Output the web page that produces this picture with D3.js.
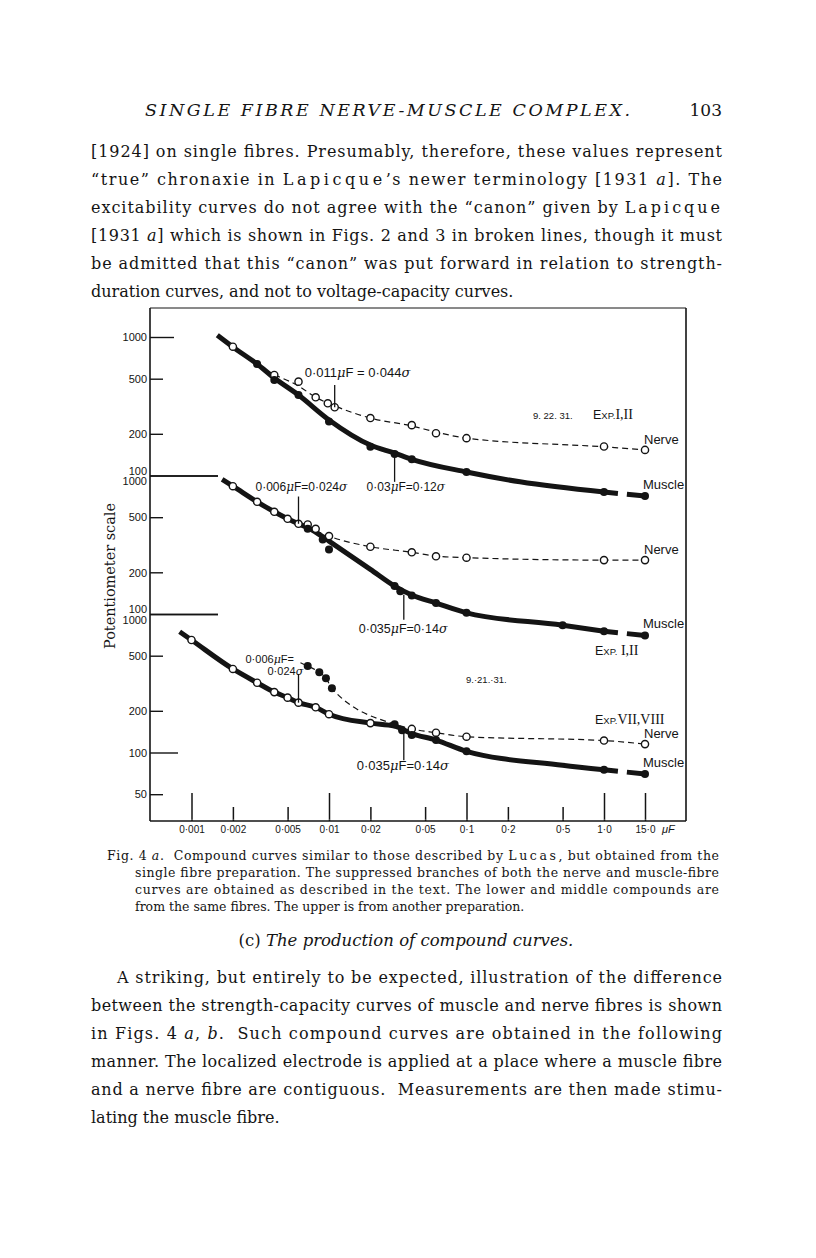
<!DOCTYPE html>
<html>
<head>
<meta charset="utf-8">
<script src="https://cdn.jsdelivr.net/npm/d3@7"></script>
<style>
body { margin: 0; background: #fff; }
text { white-space: pre; }
</style>
</head>
<body>
<script>

// ---------- data ----------
// x : condenser capacity, microfarads ; y : potentiometer scale reading
var xTickVals = [0.001, 0.002, 0.005, 0.01, 0.02, 0.05, 0.1, 0.2, 0.5, 1, 15];
var xTickText = ["0·001", "0·002", "0·005", "0·01", "0·02", "0·05", "0·1", "0·2", "0·5", "1·0", "15·0"];
var xMajor = [0.001, 0.01, 0.1, 1, 15];

var yTickVals = [[1000, 500, 200, 100], [1000, 500, 200, 100], [1000, 500, 200, 100, 50]];

// upper compound, 9.22.31, Exp. I,II
var p1_muscle = [[0.003,638],[0.004,489],[0.006,381],[0.01,245],[0.02,161],[0.03,143],[0.04,131],[0.1,106],[1,76],[15,71]];
var p1_nerve  = [[0.002,851],[0.004,532],[0.006,476],[0.008,367],[0.0098,332],[0.011,311],[0.02,260],[0.04,231],[0.06,202],[0.1,186],[1,162],[15,153]];
var p1_solid  = [[0.00154,1030],[0.002,847],[0.003,638],[0.004,506],[0.006,381],[0.01,252],[0.02,166],[0.03,145],[0.04,131],[0.1,106],[0.245,90],[1,76]];
var p1_dash   = [[0.004,532],[0.006,443],[0.008,367],[0.011,318],[0.02,260],[0.04,228],[0.06,206],[0.1,186],[1,161],[15,153]];

// middle compound, Exp. I,II
var p2_muscle = [[0.007,412],[0.009,345],[0.01,292],[0.03,159],[0.033,146],[0.04,136],[0.06,120],[0.1,102],[0.5,83],[1,75],[15,70]];
var p2_nerve  = [[0.002,837],[0.003,646],[0.004,547],[0.005,487],[0.006,448],[0.007,443],[0.008,412],[0.01,365],[0.02,306],[0.04,279],[0.06,261],[0.1,255],[1,245],[15,245]];
var p2_solid  = [[0.00167,936],[0.002,837],[0.003,646],[0.004,547],[0.005,487],[0.006,448],[0.007,421],[0.0087,369],[0.01,336],[0.02,210],[0.03,159],[0.04,137],[0.06,120],[0.1,102],[0.5,83],[1,75]];
var p2_dash   = [[0.008,400],[0.01,365],[0.02,306],[0.04,279],[0.06,262],[0.1,255],[1,245],[15,245]];

// lower compound, 9.21.31, Exp. VII,VIII
var p3_muscle = [[0.007,421],[0.0085,380],[0.0095,344],[0.0105,291],[0.03,160],[0.034,145],[0.04,134],[0.06,123],[0.1,102],[1,75],[15,70]];
var p3_nerve  = [[0.001,649],[0.002,401],[0.003,319],[0.004,273],[0.005,249],[0.006,229],[0.008,212],[0.01,189],[0.02,163],[0.04,148],[0.06,139],[0.1,130],[1,122],[15,115]];
var p3_solid  = [[0.00082,745],[0.001,649],[0.002,401],[0.003,319],[0.004,273],[0.005,249],[0.006,229],[0.008,212],[0.01,189],[0.02,163],[0.03,155],[0.04,137],[0.06,123],[0.1,102],[0.5,81],[1,75]];
var p3_dash   = [[0.0062,445],[0.007,421],[0.0085,380],[0.0095,344],[0.0105,291],[0.03,160],[0.04,148],[0.06,139],[0.1,130],[1,122],[15,115]];

// chronaxie leaders: panel, capacity, from / to reading
var leaders = [
  {p: 0, x: 0.011, y0: 450, y1: 311},
  {p: 0, x: 0.03,  y0: 143, y1: 90},
  {p: 1, x: 0.006, y0: 705, y1: 448},
  {p: 1, x: 0.035, y0: 138, y1: 91},
  {p: 2, x: 0.006, y0: 369, y1: 229},
  {p: 2, x: 0.035, y0: 150, y1: 88}
];

var headText = [
  "[1924] on single fibres. Presumably, therefore, these values represent",
  "“true” chronaxie in ~Lapicque~’s newer terminology [1931 *a*]. The",
  "excitability curves do not agree with the “canon” given by ~Lapicque~",
  "[1931 *a*] which is shown in Figs. 2 and 3 in broken lines, though it must",
  "be admitted that this “canon” was put forward in relation to strength-",
  "duration curves, and not to voltage-capacity curves."
];
var captionText = [
  "Fig. 4 *a*.  Compound curves similar to those described by ~Lucas~, but obtained from the",
  "single fibre preparation. The suppressed branches of both the nerve and muscle-fibre",
  "curves are obtained as described in the text. The lower and middle compounds are",
  "from the same fibres. The upper is from another preparation."
];
var footText = [
  "A striking, but entirely to be expected, illustration of the difference",
  "between the strength-capacity curves of muscle and nerve fibres is shown",
  "in Figs. 4 *a*, *b*.  Such compound curves are obtained in the following",
  "manner. The localized electrode is applied at a place where a muscle fibre",
  "and a nerve fibre are contiguous.  Measurements are then made stimu-",
  "lating the muscle fibre."
];

// ---------- drawing ----------
var ink = "#141414";
var svg = d3.select("body").append("svg").attr("width", 816).attr("height", 1258);

var panels = [
  {solid: p1_solid, dash: p1_dash, muscle: p1_muscle, nerve: p1_nerve},
  {solid: p2_solid, dash: p2_dash, muscle: p2_muscle, nerve: p2_nerve},
  {solid: p3_solid, dash: p3_dash, muscle: p3_muscle, nerve: p3_nerve}
];

var x = d3.scaleLog().domain([0.001, 1, 15]).range([191.5, 604, 645]);
var decade = 138.5;
var ys = [337, 337 + decade, 337 + 2 * decade].map(function (t) {
  return d3.scaleLog().domain([1000, 100]).range([t, t + decade]);
});

var fL = 150, fR = 686, fT = 308, fB = 821;

// frame
svg.append("line").attr("x1", fL).attr("x2", fR).attr("y1", fT).attr("y2", fT)
  .attr("stroke", ink).attr("stroke-width", 1);
svg.append("line").attr("x1", fL).attr("x2", fL).attr("y1", fT).attr("y2", fB)
  .attr("stroke", ink).attr("stroke-width", 1.6);
svg.append("line").attr("x1", fR).attr("x2", fR).attr("y1", fT).attr("y2", fB)
  .attr("stroke", ink).attr("stroke-width", 1.6);
svg.append("line").attr("x1", fL).attr("x2", fR).attr("y1", fB).attr("y2", fB)
  .attr("stroke", ink).attr("stroke-width", 1.6);

// x axis ticks and labels
var gx = svg.append("g").attr("transform", "translate(0," + fB + ")");
gx.append("g").call(d3.axisBottom(x).tickValues(xMajor).tickSize(-28).tickFormat(""));
gx.append("g").call(d3.axisBottom(x)
  .tickValues(xTickVals.filter(function (v) { return xMajor.indexOf(v) < 0; }))
  .tickSize(-14).tickFormat(""));
gx.append("g").call(d3.axisBottom(x).tickValues(xTickVals).tickSize(0).tickPadding(5)
  .tickFormat(function (d, i) { return xTickText[i]; }));
gx.selectAll(".domain").remove();
gx.selectAll(".tick line").attr("stroke", ink).attr("stroke-width", 1.5).attr("y1", -1.5);
gx.selectAll("text").attr("font-family", "Liberation Sans").attr("font-size", 10).attr("fill", ink);

gx.append("text").attr("x", x(15) + 17).attr("y", 12)
  .attr("font-family", "Liberation Sans").attr("font-size", 11).attr("font-style", "italic")
  .attr("fill", ink).text("μF");

// y axes, one log scale for each compound
function tickLen(p, v) {
  if (v == 100 && p < 2) return 68;
  if (v == 1000 && p > 0) return 68;
  if (v == 1000 && p == 0) return 24;
  if (v == 100 && p == 2) return 28;
  return 13;
}
ys.forEach(function (y, p) {
  var gy = svg.append("g").attr("transform", "translate(" + fL + ",0)")
    .call(d3.axisLeft(y).tickValues(yTickVals[p]).tickSize(-13).tickPadding(3).tickFormat(d3.format("d")));
  gy.select(".domain").remove();
  gy.selectAll(".tick line").attr("stroke", ink).attr("stroke-width", 1.4)
    .attr("x2", function (d) { return tickLen(p, d); });
  gy.selectAll(".tick text").attr("font-family", "Liberation Sans").attr("font-size", 11).attr("fill", ink)
    .attr("dy", function (d) {
      if (d == 100 && p < 2) return "-0.12em";
      if (d == 1000 && p > 0) return "0.85em";
      return "0.34em";
    });
});

svg.append("text")
  .attr("transform", "translate(115,576) rotate(-90)")
  .attr("text-anchor", "middle")
  .attr("font-family", "DejaVu Serif").attr("font-size", 15).attr("fill", ink)
  .attr("textLength", 146).attr("lengthAdjust", "spacingAndGlyphs")
  .text("Potentiometer scale");

// curves and points
panels.forEach(function (P, p) {
  var y = ys[p];
  var curve = d3.line().x(function (d) { return x(d[0]); }).y(function (d) { return y(d[1]); })
    .curve(d3.curveMonotoneX);
  var straight = d3.line().x(function (d) { return x(d[0]); }).y(function (d) { return y(d[1]); });

  svg.append("path").datum(P.dash).attr("d", curve)
    .attr("fill", "none").attr("stroke", ink).attr("stroke-width", 1.2).attr("stroke-dasharray", "6,4");
  svg.append("path").datum(P.solid).attr("d", curve)
    .attr("fill", "none").attr("stroke", ink).attr("stroke-width", 5);
  // muscle curve broken before the 15 μF point
  svg.append("path").datum(P.muscle.slice(-2)).attr("d", straight)
    .attr("fill", "none").attr("stroke", ink).attr("stroke-width", 5).attr("stroke-dasharray", "14,9,40");

  svg.append("g").selectAll("circle").data(P.nerve).enter().append("circle")
    .attr("cx", function (d) { return x(d[0]); }).attr("cy", function (d) { return y(d[1]); })
    .attr("r", 3.6).attr("fill", "#fff").attr("stroke", ink).attr("stroke-width", 1.4);
  svg.append("g").selectAll("circle").data(P.muscle).enter().append("circle")
    .attr("cx", function (d) { return x(d[0]); }).attr("cy", function (d) { return y(d[1]); })
    .attr("r", 4).attr("fill", ink);

  var nEnd = P.nerve[P.nerve.length - 1], mEnd = P.muscle[P.muscle.length - 1];
  svg.append("text").attr("x", x(nEnd[0]) - 1).attr("y", y(nEnd[1]) - 6)
    .attr("font-family", "Liberation Sans").attr("font-size", 13).attr("fill", ink).text("Nerve");
  svg.append("text").attr("x", x(mEnd[0]) - 2).attr("y", y(mEnd[1]) - 7)
    .attr("font-family", "Liberation Sans").attr("font-size", 13).attr("fill", ink).text("Muscle");
});

// chronaxie leaders and their labels
leaders.forEach(function (L) {
  svg.append("line")
    .attr("x1", x(L.x)).attr("x2", x(L.x))
    .attr("y1", ys[L.p](L.y0)).attr("y2", ys[L.p](L.y1))
    .attr("stroke", ink).attr("stroke-width", 1.3);
});

function chron(xp, yp, parts, size) {
  var t = svg.append("text").attr("x", xp).attr("y", yp)
    .attr("font-family", "Liberation Sans").attr("font-size", size || 12.5).attr("fill", ink);
  parts.forEach(function (s) {
    var ts = t.append("tspan").text(s.replace(/[*]/g, ""));
    if (s[0] == "*") ts.attr("font-style", "italic").attr("font-family", "DejaVu Serif");
  });
}
function lx(i) { return x(leaders[i].x); }
function ly(i, k) { return ys[leaders[i].p](k ? leaders[i].y1 : leaders[i].y0); }

chron(lx(0) - 30, ly(0, 0) - 8, ["0·011", "*μ*", "F = 0·044", "*σ*"], 13);
chron(lx(1) - 28, ly(1, 1) + 9, ["0·03", "*μ*", "F=0·12", "*σ*"], 12);
chron(lx(2) - 43, ly(2, 0) - 6, ["0·006", "*μ*", "F=0·024", "*σ*"], 12);
chron(lx(3) - 45, ly(3, 1) + 13, ["0·035", "*μ*", "F=0·14", "*σ*"], 12.5);
chron(lx(4) - 53, ly(4, 0) - 11, ["0·006", "*μ*", "F="], 11);
chron(lx(4) - 31, ly(4, 0) + 1, ["0·024", "*σ*"], 11);
chron(lx(5) - 47, ly(5, 1) + 10, ["0·035", "*μ*", "F=0·14", "*σ*"], 13);

// experiment labels
function expLabel(xp, yp, roman) {
  var t = svg.append("text").attr("x", xp).attr("y", yp).attr("fill", ink);
  t.append("tspan").attr("font-family", "Liberation Sans").attr("font-size", 12.5).text("E");
  t.append("tspan").attr("font-family", "Liberation Sans").attr("font-size", 9.5).text("XP.");
  t.append("tspan").attr("font-family", "Liberation Serif").attr("font-size", 14).text(roman);
}
function dateLabel(xp, yp, s) {
  svg.append("text").attr("x", xp).attr("y", yp)
    .attr("font-family", "Liberation Sans").attr("font-size", 9.5).attr("fill", ink).text(s);
}
dateLabel(533, 419, "9. 22. 31.");
expLabel(593, 419, "I,II");
expLabel(595, 655, " I,II");
dateLabel(466, 683, "9.·21.·31.");
expLabel(595, 724, "VII,VIII");

// ---------- page text ----------
function addLine(str, x0, y0, size, len, style) {
  var t = svg.append("text").attr("x", x0).attr("y", y0)
    .attr("font-family", "DejaVu Serif").attr("font-size", size).attr("fill", ink);
  if (style) t.attr("font-style", style);
  if (len) t.attr("textLength", len).attr("lengthAdjust", "spacing");
  str.split(/(\*[^*]+\*|~[^~]+~)/).filter(function (s) { return s.length; }).forEach(function (s) {
    var ts = t.append("tspan");
    if (s[0] == "*") ts.attr("font-style", "italic").text(s.slice(1, -1));
    else if (s[0] == "~") ts.attr("letter-spacing", 2).text(s.slice(1, -1));
    else ts.text(s);
  });
  return t;
}

addLine("SINGLE FIBRE NERVE-MUSCLE COMPLEX.", 145, 116, 17.5, 485, "italic");
svg.append("text").attr("x", 722).attr("y", 116).attr("text-anchor", "end")
  .attr("font-family", "DejaVu Serif").attr("font-size", 17).attr("fill", ink).text("103");

headText.forEach(function (s, i) {
  addLine(s, 91, 157 + 28 * i, 16, i < headText.length - 1 ? 631 : null);
});

captionText.forEach(function (s, i) {
  addLine(s, i ? 135 : 107, 860 + 17 * i, 12.5, i < captionText.length - 1 ? (i ? 584 : 612) : null);
});

var sub = svg.append("text").attr("x", 406).attr("y", 946).attr("text-anchor", "middle")
  .attr("font-family", "DejaVu Serif").attr("font-size", 16.5).attr("fill", ink);
sub.append("tspan").text("(c) ");
sub.append("tspan").attr("font-style", "italic").text("The production of compound curves.");

footText.forEach(function (s, i) {
  addLine(s, i ? 91 : 117, 983 + 28 * i, 16, i < footText.length - 1 ? (i ? 631 : 605) : null);
});

</script>
</body>
</html>
